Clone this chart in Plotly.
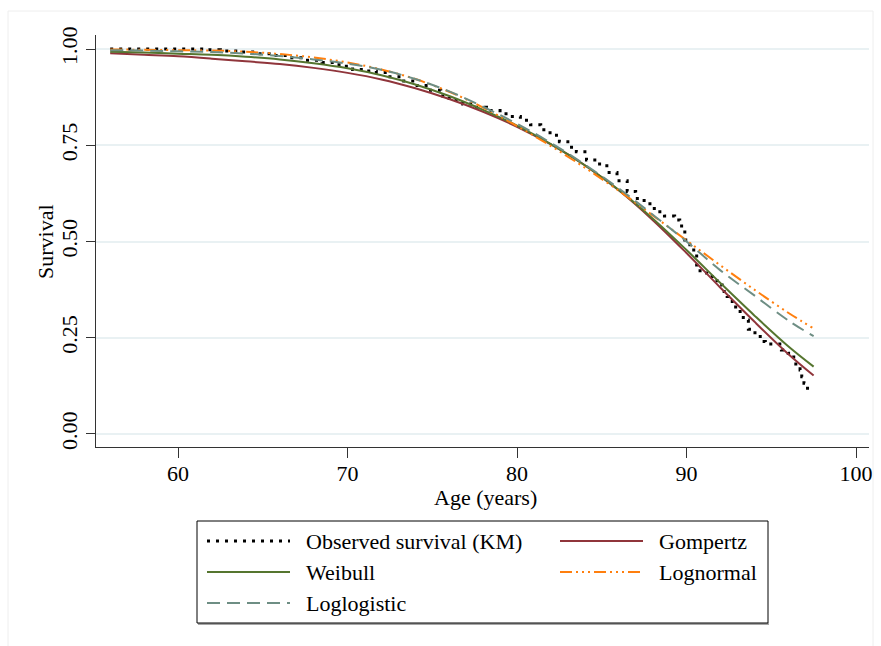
import plotly.graph_objects as go

# ---- data -------------------------------------------------------------
# Kaplan-Meier step points (age at step, survival after step)
km_age = [56.0, 61.5, 62.5, 63.5, 64.5, 65.5, 66.5, 67.5, 68.5, 69.5, 70.3, 71.0,
          71.7, 72.5, 73.2, 74.0, 74.8, 75.5, 76.0, 76.8, 77.5, 78.2, 79.0, 79.6,
          80.2, 80.8, 81.4, 81.95, 82.5, 83.0, 83.5, 84.1, 84.7, 85.3, 85.9, 86.5,
          87.0, 87.5, 88.1, 88.7, 89.3, 89.6, 89.9, 90.2, 90.6, 90.8, 91.0, 91.4,
          91.8, 92.1, 92.4, 92.7, 92.9, 93.35, 93.65, 93.95, 94.35, 94.65, 95.6,
          96.0, 96.2, 96.45, 96.7, 96.8, 96.93, 97.0, 97.5]
km_surv = [1.000, 0.998, 0.995, 0.992, 0.988, 0.983, 0.977, 0.971, 0.965, 0.955, 0.947, 0.943,
           0.939, 0.928, 0.917, 0.905, 0.893, 0.878, 0.866, 0.857, 0.849, 0.840, 0.832, 0.825,
           0.815, 0.803, 0.790, 0.776, 0.759, 0.745, 0.733, 0.712, 0.701, 0.679, 0.658, 0.630,
           0.612, 0.598, 0.577, 0.566, 0.556, 0.540, 0.504, 0.478, 0.439, 0.420, 0.418, 0.409,
           0.387, 0.370, 0.357, 0.344, 0.318, 0.296, 0.272, 0.263, 0.240, 0.234, 0.218,
           0.210, 0.200, 0.175, 0.166, 0.149, 0.132, 0.119, 0.119]

# ages at which the fitted parametric survival curves are evaluated
fit_age = [56, 58, 60, 62, 64, 66, 68, 70, 72, 74, 76, 78, 80, 82, 84, 86, 88, 90,
           92, 94, 96, 97.5]
gompertz = [0.989, 0.985, 0.981, 0.975, 0.968, 0.961, 0.951, 0.938, 0.921, 0.898, 0.870,
            0.837, 0.798, 0.752, 0.698, 0.633, 0.556, 0.470, 0.380, 0.292, 0.208, 0.152]
weibull = [0.993, 0.991, 0.988, 0.985, 0.980, 0.973, 0.963, 0.950, 0.932, 0.908, 0.878,
           0.842, 0.801, 0.753, 0.698, 0.634, 0.560, 0.478, 0.392, 0.308, 0.228, 0.175]
loglogistic = [0.997, 0.996, 0.994, 0.992, 0.988, 0.982, 0.973, 0.962, 0.946, 0.922, 0.890,
               0.850, 0.806, 0.756, 0.700, 0.638, 0.570, 0.500, 0.425, 0.360, 0.295, 0.254]
lognormal = [0.999, 0.998, 0.997, 0.996, 0.993, 0.987, 0.978, 0.965, 0.947, 0.922, 0.889,
             0.848, 0.800, 0.748, 0.692, 0.632, 0.568, 0.503, 0.438, 0.375, 0.315, 0.274]

x_ticks = [60, 70, 80, 90, 100]
y_ticks = [0.0, 0.25, 0.5, 0.75, 1.0]
y_ticktext = ["0.00", "0.25", "0.50", "0.75", "1.00"]

# ---- styles -----------------------------------------------------------
FONT = "Liberation Serif, Times New Roman, serif"
C_KM = "#000000"
C_GOMP = "#90353b"
C_WEIB = "#55752f"
C_LOGN = "#ff7f0e"
C_LOGL = "#6e8e84"
DASH_KM = "3px,6px"
DASH_LOGL = "13px,7px"
DASH_LOGN = "12px,4px,2px,4px,2px,4px,2px,4px"

fig = go.Figure()
fig.add_trace(go.Scatter(x=km_age, y=km_surv, mode="lines", line_shape="hv",
                         line=dict(color=C_KM, width=3, dash=DASH_KM),
                         name="Observed survival (KM)"))
fig.add_trace(go.Scatter(x=fit_age, y=gompertz, mode="lines", line_shape="spline",
                         line=dict(color=C_GOMP, width=2), name="Gompertz"))
fig.add_trace(go.Scatter(x=fit_age, y=weibull, mode="lines", line_shape="spline",
                         line=dict(color=C_WEIB, width=2), name="Weibull"))
fig.add_trace(go.Scatter(x=fit_age, y=lognormal, mode="lines", line_shape="spline",
                         line=dict(color=C_LOGN, width=2, dash=DASH_LOGN), name="Lognormal"))
fig.add_trace(go.Scatter(x=fit_age, y=loglogistic, mode="lines", line_shape="spline",
                         line=dict(color=C_LOGL, width=2, dash=DASH_LOGL), name="Loglogistic"))

# ---- geometry helpers (plot area in pixels) ---------------------------
L, R, T, B = 96, 869, 35, 447
W, H = R - L, B - T


def px(xp):
    return (xp - L) / W


def py(yp):
    return (B - yp) / H


shapes = []
annotations = []

# outer graph-region frame
shapes.append(dict(type="rect", xref="paper", yref="paper",
                   x0=px(8), x1=px(873), y0=py(670), y1=py(11),
                   line=dict(color="#eeeeee", width=1), layer="below"))

# axis titles
annotations.append(dict(xref="paper", yref="paper", x=px(485), y=py(497),
                        text="Age (years)", showarrow=False, xanchor="center",
                        yanchor="middle", font=dict(family=FONT, size=22, color="black")))
annotations.append(dict(xref="paper", yref="paper", x=px(45), y=py(241),
                        text="Survival", showarrow=False, textangle=-90,
                        xanchor="center", yanchor="middle",
                        font=dict(family=FONT, size=22, color="black")))

# legend box
shapes.append(dict(type="line", xref="paper", yref="paper",
                   x0=px(198), x1=px(769), y0=py(624), y1=py(624),
                   line=dict(color="#888888", width=1.5)))
shapes.append(dict(type="rect", xref="paper", yref="paper",
                   x0=px(197), x1=px(768), y0=py(623), y1=py(521),
                   line=dict(color="#000000", width=1), fillcolor="white"))

legend_items = [
    ("Observed survival (KM)", C_KM, 3, DASH_KM, 0, 541),
    ("Gompertz", C_GOMP, 2, "solid", 1, 541),
    ("Weibull", C_WEIB, 2, "solid", 0, 572),
    ("Lognormal", C_LOGN, 2, DASH_LOGN, 1, 572),
    ("Loglogistic", C_LOGL, 2, DASH_LOGL, 0, 603),
]
col_x = [(207, 290, 304), (560, 643, 657)]
for label, color, width, dash, col, yrow in legend_items:
    xs0, xs1, xt = col_x[col]
    shapes.append(dict(type="line", xref="paper", yref="paper",
                       x0=px(xs0), x1=px(xs1), y0=py(yrow), y1=py(yrow),
                       line=dict(color=color, width=width, dash=dash)))
    annotations.append(dict(xref="paper", yref="paper", x=px(xt), y=py(yrow),
                            text=label, showarrow=False, xanchor="left",
                            yanchor="middle", font=dict(family=FONT, size=22,
                                                        color="black")))

fig.update_layout(
    width=881, height=646,
    margin=dict(l=L, r=881 - R, t=T, b=646 - B, autoexpand=False),
    paper_bgcolor="white", plot_bgcolor="white",
    showlegend=False,
    font=dict(family=FONT, size=22, color="black"),
    shapes=shapes,
    annotations=annotations,
)
fig.update_xaxes(
    range=[55.162, 100.767], tickvals=x_ticks, automargin=False,
    showgrid=False, zeroline=False,
    showline=True, linecolor="#333333", linewidth=1.3,
    ticks="outside", ticklen=10, tickcolor="#333333", tickwidth=1.3,
    ticklabelstandoff=-4,
    tickfont=dict(family=FONT, size=22),
)
fig.update_yaxes(
    range=[-0.0338, 1.0364], tickvals=y_ticks, ticktext=y_ticktext,
    tickangle=-90, automargin=False,
    showgrid=True, gridcolor="#e9f1f3", gridwidth=2, zeroline=False,
    showline=True, linecolor="#333333", linewidth=1.3,
    ticks="outside", ticklen=9, tickcolor="#333333", tickwidth=1.3,
    tickfont=dict(family=FONT, size=22),
)

fig.write_html("out.html")
